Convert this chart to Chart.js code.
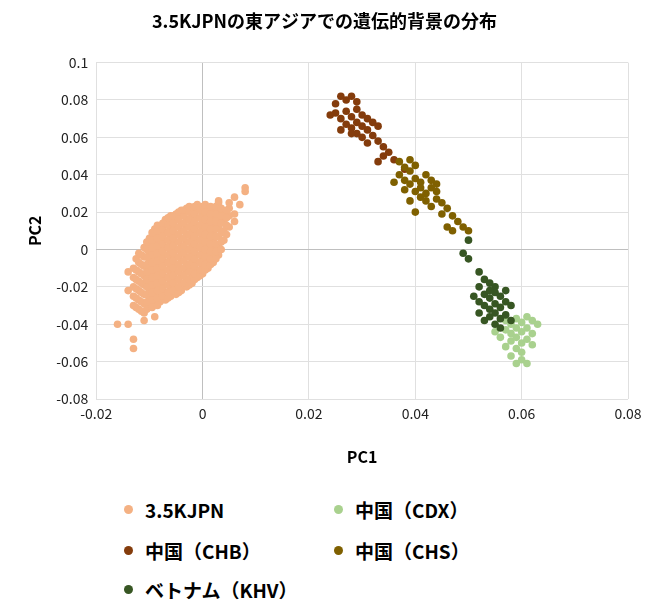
<!DOCTYPE html>
<html><head><meta charset="utf-8">
<script src="https://cdn.jsdelivr.net/npm/chart.js@4"></script>
<style>
body{margin:0;background:#fff;font-family:"Noto Sans CJK JP",sans-serif;}
#wrap{position:relative;width:650px;height:615px;}
#c{position:absolute;left:0;top:0;}
.leg{position:absolute;font-weight:bold;font-size:19px;color:#000;display:flex;align-items:center;}
.dot{width:9px;height:9px;border-radius:50%;margin-right:12px;}
</style></head><body>
<div id="wrap"><canvas id="c" width="650" height="471"></canvas>
<div class="leg" style="left:124px;top:496px"><span class="dot" style="background:#F4B183"></span>3.5KJPN</div>
<div class="leg" style="left:334px;top:496px"><span class="dot" style="background:#A9D18E"></span>中国（CDX）</div>
<div class="leg" style="left:124px;top:537px"><span class="dot" style="background:#843C0C"></span>中国（CHB）</div>
<div class="leg" style="left:334px;top:537px"><span class="dot" style="background:#7F6000"></span>中国（CHS）</div>
<div class="leg" style="left:124px;top:576px"><span class="dot" style="background:#375623"></span>ベトナム（KHV）</div>
</div>
<script>
const seriesNames=["3.5KJPN","中国（CDX）","中国（CHB）","中国（CHS）","ベトナム（KHV）"];
const xTicks=[-0.02,0,0.02,0.04,0.06,0.08];
const yTicks=[0.1,0.08,0.06,0.04,0.02,0,-0.02,-0.04,-0.06,-0.08];
// JPN columns: [x, [y values]]
const jpnCols=[
[-0.013,[-0.03,-0.025,-0.02,-0.015,-0.01]],
[-0.012,[-0.032,-0.027,-0.022,-0.017,-0.012,-0.007,-0.002]],
[-0.011,[-0.034,-0.029,-0.024,-0.019,-0.014,-0.009,-0.004,0.001]],
[-0.010,[-0.03,-0.026,-0.022,-0.018,-0.014,-0.01,-0.006,-0.002,0.002,0.006]],
[-0.009,[-0.029,-0.025,-0.021,-0.017,-0.013,-0.009,-0.005,-0.001,0.003,0.007,0.011]],
[-0.008,[-0.028,-0.024,-0.02,-0.016,-0.012,-0.008,-0.004,0,0.004,0.008,0.012]],
[-0.007,[-0.027,-0.023,-0.019,-0.015,-0.011,-0.007,-0.003,0.001,0.005,0.009,0.013,0.016]],
[-0.006,[-0.025,-0.021,-0.017,-0.013,-0.009,-0.005,-0.001,0.003,0.007,0.011,0.015,0.018]],
[-0.005,[-0.024,-0.02,-0.016,-0.012,-0.008,-0.004,0,0.004,0.008,0.012,0.016,0.019]],
[-0.004,[-0.022,-0.018,-0.014,-0.01,-0.006,-0.002,0.002,0.006,0.01,0.014,0.018,0.021]],
[-0.003,[-0.02,-0.016,-0.012,-0.008,-0.004,0,0.004,0.008,0.012,0.016,0.02,0.022]],
[-0.002,[-0.018,-0.014,-0.01,-0.006,-0.002,0.002,0.006,0.01,0.014,0.018,0.022]],
[-0.001,[-0.015,-0.011,-0.007,-0.003,0.001,0.005,0.009,0.013,0.017,0.021,0.024]],
[0,[-0.013,-0.009,-0.005,-0.001,0.003,0.007,0.011,0.015,0.019,0.023]],
[0.001,[-0.01,-0.006,-0.002,0.002,0.006,0.01,0.014,0.018,0.022]],
[0.002,[-0.007,-0.003,0.001,0.005,0.009,0.013,0.017,0.021]],
[0.003,[-0.003,0.002,0.007,0.012,0.016,0.02,0.025]],
[0.004,[0.005,0.01,0.015,0.019]],
[0.005,[0.012,0.018,0.022]],
[-0.0125,[-0.031,-0.026,-0.021,-0.016,-0.011,-0.005]],
[-0.0115,[-0.033,-0.028,-0.023,-0.018,-0.013,-0.008,-0.003]],
[-0.0105,[-0.032,-0.028,-0.024,-0.02,-0.016,-0.012,-0.008,-0.004,0,0.004]],
[-0.0095,[-0.031,-0.027,-0.023,-0.019,-0.015,-0.011,-0.007,-0.003,0.001,0.005,0.009]],
[-0.0085,[-0.03,-0.026,-0.022,-0.018,-0.014,-0.01,-0.006,-0.002,0.002,0.006,0.01,0.013]],
[-0.0075,[-0.025,-0.021,-0.017,-0.013,-0.009,-0.005,-0.001,0.003,0.007,0.011,0.014]],
[-0.0065,[-0.026,-0.023,-0.019,-0.015,-0.011,-0.007,-0.003,0.001,0.005,0.009,0.013,0.017]],
[-0.0055,[-0.022,-0.018,-0.014,-0.01,-0.006,-0.002,0.002,0.006,0.01,0.014,0.018]],
[-0.0045,[-0.023,-0.02,-0.016,-0.012,-0.008,-0.004,0,0.004,0.008,0.012,0.016,0.02]],
[-0.0035,[-0.018,-0.014,-0.01,-0.006,-0.002,0.002,0.006,0.01,0.014,0.018,0.021]],
[-0.0025,[-0.019,-0.016,-0.012,-0.008,-0.004,0,0.004,0.008,0.012,0.016,0.02,0.023]],
[-0.0015,[-0.016,-0.013,-0.009,-0.005,-0.001,0.003,0.007,0.011,0.015,0.019,0.023]],
[-0.0005,[-0.014,-0.011,-0.007,-0.003,0.001,0.005,0.009,0.013,0.017,0.021]],
[0.0005,[-0.011,-0.008,-0.004,0,0.004,0.008,0.012,0.016,0.02,0.024]],
[0.0015,[-0.008,-0.005,-0.001,0.003,0.007,0.011,0.015,0.019,0.023]],
[0.0025,[-0.005,-0.001,0.003,0.007,0.011,0.015,0.019,0.023]],
[0.0035,[0,0.004,0.009,0.014,0.018,0.022]],
[0.0045,[0.008,0.013,0.017,0.021]]];
const jpnExtra=[[-0.016,-0.04],[-0.013,-0.053],[-0.013,-0.048],[-0.014,-0.04],[0.008,0.033],[0.008,0.031],[0.006,0.028],[0.003,0.026],[0.007,0.024],[0.005,0.025],[-0.011,-0.038],[-0.009,-0.036],[0.006,0.019],[0.006,0.015],[-0.014,-0.022],[-0.014,-0.012]];
const cdx=[[0.057,-0.038],[0.058,-0.04],[0.059,-0.037],[0.06,-0.039],[0.061,-0.036],[0.062,-0.038],[0.063,-0.04],[0.057,-0.043],[0.058,-0.045],[0.059,-0.042],[0.06,-0.044],[0.061,-0.042],[0.062,-0.045],[0.056,-0.047],[0.058,-0.049],[0.059,-0.047],[0.06,-0.05],[0.061,-0.048],[0.057,-0.052],[0.059,-0.053],[0.06,-0.055],[0.058,-0.057],[0.06,-0.059],[0.059,-0.061],[0.061,-0.061],[0.062,-0.051],[0.055,-0.044]];
const chb=[[0.025,0.078],[0.026,0.082],[0.027,0.08],[0.028,0.082],[0.029,0.079],[0.025,0.073],[0.026,0.07],[0.027,0.074],[0.028,0.071],[0.029,0.075],[0.03,0.072],[0.031,0.07],[0.027,0.067],[0.028,0.065],[0.029,0.068],[0.03,0.066],[0.031,0.064],[0.032,0.068],[0.033,0.066],[0.029,0.062],[0.03,0.06],[0.032,0.061],[0.033,0.058],[0.031,0.057],[0.034,0.055],[0.035,0.052],[0.034,0.05],[0.036,0.048],[0.033,0.047],[0.038,0.043],[0.024,0.072],[0.026,0.064],[0.028,0.062]];
const chs=[[0.037,0.047],[0.038,0.044],[0.039,0.042],[0.04,0.045],[0.037,0.04],[0.038,0.037],[0.039,0.035],[0.04,0.038],[0.041,0.036],[0.042,0.04],[0.043,0.037],[0.038,0.032],[0.04,0.031],[0.041,0.033],[0.042,0.03],[0.043,0.033],[0.044,0.031],[0.041,0.028],[0.042,0.026],[0.044,0.027],[0.045,0.025],[0.043,0.023],[0.046,0.022],[0.045,0.019],[0.047,0.018],[0.048,0.015],[0.046,0.012],[0.047,0.01],[0.049,0.012],[0.05,0.01],[0.04,0.02],[0.039,0.026],[0.036,0.036],[0.044,0.035],[0.039,0.048]];
const khv=[[0.05,0.005],[0.05,-0.005],[0.049,-0.002],[0.052,-0.012],[0.052,-0.02],[0.053,-0.016],[0.054,-0.018],[0.055,-0.02],[0.053,-0.024],[0.054,-0.026],[0.055,-0.023],[0.056,-0.025],[0.052,-0.028],[0.053,-0.03],[0.054,-0.032],[0.055,-0.029],[0.056,-0.031],[0.057,-0.028],[0.052,-0.034],[0.054,-0.036],[0.055,-0.034],[0.056,-0.037],[0.057,-0.035],[0.055,-0.04],[0.056,-0.042],[0.058,-0.038],[0.051,-0.025],[0.057,-0.022],[0.058,-0.03],[0.053,-0.038],[0.054,-0.022]];
const colors=["#F4B183","#A9D18E","#843C0C","#7F6000","#375623"];
const jpn=[];jpnCols.forEach(([x,ys])=>ys.forEach(y=>jpn.push([x,y])));jpnExtra.forEach(p=>jpn.push(p));
const toXY=a=>a.map(([x,y])=>({x,y}));
const sets=[jpn,cdx,chb,chs,khv];
const ds=sets.map((s,i)=>({label:seriesNames[i],data:toXY(s),backgroundColor:colors[i],borderColor:colors[i],pointRadius:3.8,borderWidth:0})).reverse();
const fmt=v=>String(Number(v.toFixed(2)));
const tickFont={family:"Noto Sans CJK JP",size:14};
new Chart(document.getElementById('c'),{type:'scatter',data:{datasets:ds},
options:{responsive:false,animation:false,
layout:{padding:{left:21,right:22,top:0,bottom:0}},
plugins:{legend:{display:false},tooltip:{enabled:false},
title:{display:true,text:"3.5KJPNの東アジアでの遺伝的背景の分布",font:{family:"Noto Sans CJK JP",size:18,weight:'bold'},color:'#000',padding:{top:10,bottom:31}}},
scales:{
x:{min:-0.02,max:0.08,afterBuildTicks:a=>{a.ticks=xTicks.map(v=>({value:v}))},
ticks:{callback:fmt,color:'#222',font:tickFont,padding:6},
grid:{color:c=>Math.abs(c.tick?.value)<1e-9?'#BFBFBF':'#E0E0E0',drawTicks:false},border:{display:false},
title:{display:true,text:'PC1',font:{family:"Noto Sans CJK JP",size:16,weight:'bold'},color:'#000',padding:{top:20}}},
y:{min:-0.08,max:0.1,afterBuildTicks:a=>{a.ticks=yTicks.map(v=>({value:v}))},
ticks:{callback:fmt,color:'#222',font:tickFont,padding:8},
grid:{color:c=>Math.abs(c.tick?.value)<1e-9?'#BFBFBF':'#E0E0E0',drawTicks:false},border:{display:false},
title:{display:true,text:'PC2',font:{family:"Noto Sans CJK JP",size:16,weight:'bold'},color:'#000'}}}}});
</script></body></html>
